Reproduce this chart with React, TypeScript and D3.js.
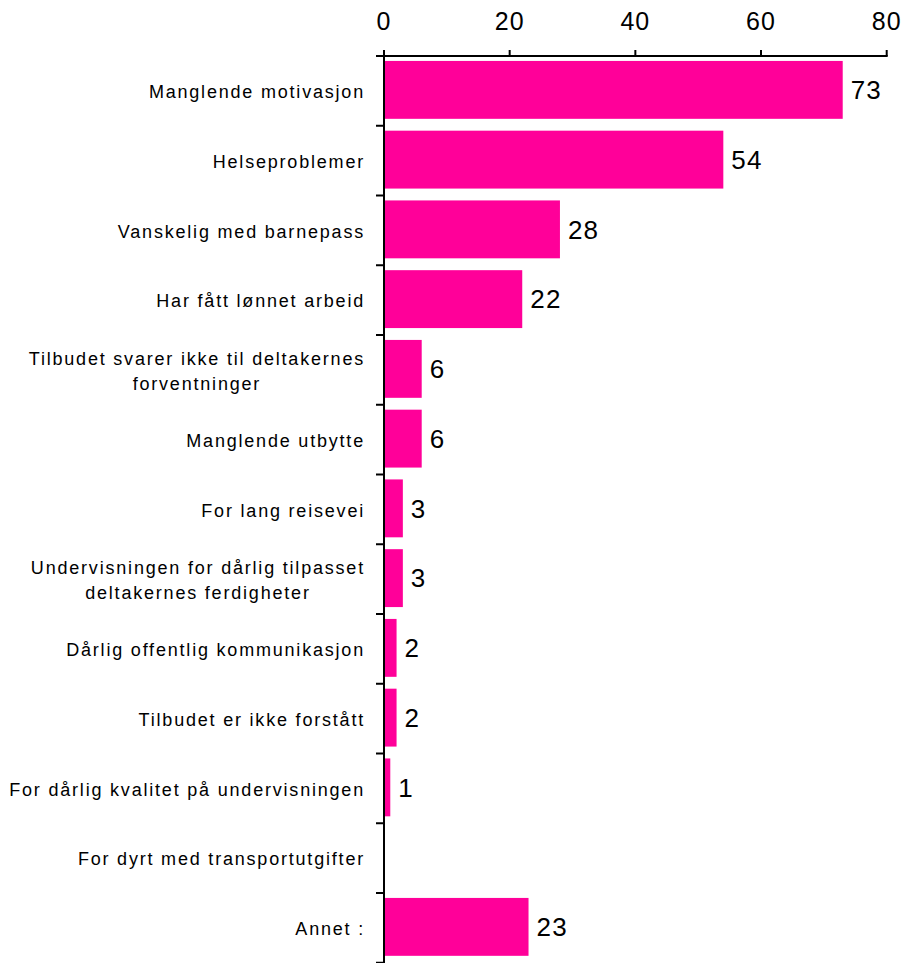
import React, { useEffect, useRef } from "react";
import * as d3 from "d3";

const categories: string[][] = [
  ["Manglende motivasjon"],
  ["Helseproblemer"],
  ["Vanskelig med barnepass"],
  ["Har fått lønnet arbeid"],
  ["Tilbudet svarer ikke til deltakernes", "forventninger"],
  ["Manglende utbytte"],
  ["For lang reisevei"],
  ["Undervisningen for dårlig tilpasset", "deltakernes ferdigheter"],
  ["Dårlig offentlig kommunikasjon"],
  ["Tilbudet er ikke forstått"],
  ["For dårlig kvalitet på undervisningen"],
  ["For dyrt med transportutgifter"],
  ["Annet :"],
];
const values: (number | null)[] = [73, 54, 28, 22, 6, 6, 3, 3, 2, 2, 1, null, 23];
const tickValues: number[] = [0, 20, 40, 60, 80];

const W = 906;
const H = 963;
const FONT = "'Liberation Sans', Arial, Helvetica, sans-serif";
const PINK = "#FF0099";

export default function App() {
  const ref = useRef<SVGSVGElement | null>(null);

  useEffect(() => {
    const svg = d3.select(ref.current);
    svg.selectAll("*").remove();

    const x0 = 384;
    const x1 = 886.7;
    const yTop = 56;
    const rowH = 69.75;
    const x = d3.scaleLinear().domain([0, 80]).range([x0, x1]);
    const idx = categories.map((_, i) => String(i));
    const y = d3
      .scaleBand<string>()
      .domain(idx)
      .range([yTop, yTop + rowH * categories.length])
      .paddingInner(0.17)
      .paddingOuter(0.085);
    const step = y.step();

    // bars
    svg
      .append("g")
      .selectAll("rect")
      .data(values.map((v, i) => ({ v, i })).filter((d) => d.v !== null && (d.v as number) > 0))
      .join("rect")
      .attr("x", x(0) + 1)
      .attr("y", (d) => (y(String(d.i)) as number) - 1)
      .attr("width", (d) => x(d.v as number) - x(0) - 1)
      .attr("height", y.bandwidth())
      .attr("fill", PINK);

    // value labels
    svg
      .append("g")
      .selectAll("text")
      .data(values.map((v, i) => ({ v, i })).filter((d) => d.v !== null))
      .join("text")
      .attr("x", (d) => x(d.v as number) + 8)
      .attr("y", (d) => (y(String(d.i)) as number) - 1 + y.bandwidth() / 2)
      .attr("dy", "0.36em")
      .attr("font-family", FONT)
      .attr("font-size", 26)
      .attr("letter-spacing", 1.2)
      .attr("fill", "#000")
      .text((d) => String(d.v));

    // top axis
    const ax = svg.append("g");
    ax.append("line")
      .attr("x1", x0 - 8)
      .attr("x2", x1 + 1)
      .attr("y1", yTop)
      .attr("y2", yTop)
      .attr("stroke", "#000")
      .attr("stroke-width", 2);
    ax.selectAll("line.t")
      .data(tickValues)
      .join("line")
      .attr("class", "t")
      .attr("x1", (d) => x(d))
      .attr("x2", (d) => x(d))
      .attr("y1", yTop - 6)
      .attr("y2", yTop)
      .attr("stroke", "#000")
      .attr("stroke-width", 2);
    ax.selectAll("text")
      .data(tickValues)
      .join("text")
      .attr("x", (d) => x(d))
      .attr("y", 30)
      .attr("text-anchor", "middle")
      .attr("font-family", FONT)
      .attr("font-size", 25)
      .attr("letter-spacing", 1)
      .attr("fill", "#000")
      .text((d) => String(d));

    // left axis
    const ay = svg.append("g");
    ay.append("line")
      .attr("x1", x0)
      .attr("x2", x0)
      .attr("y1", yTop - 6)
      .attr("y2", H + 10)
      .attr("stroke", "#000")
      .attr("stroke-width", 2);
    ay.selectAll("line.t")
      .data(d3.range(categories.length + 1))
      .join("line")
      .attr("class", "t")
      .attr("x1", x0 - 8)
      .attr("x2", x0)
      .attr("y1", (i) => yTop + i * step)
      .attr("y2", (i) => yTop + i * step)
      .attr("stroke", "#000")
      .attr("stroke-width", 2);

    // category labels
    const labelRight = 365;
    const lineH = 25;
    categories.forEach((lines, i) => {
      const cy = yTop + i * step + step / 2;
      const g = ay.append("g");
      const texts = lines.map((ln, k) =>
        g
          .append("text")
          .attr("font-family", FONT)
          .attr("font-size", 18)
          .attr("letter-spacing", 1.8)
          .attr("fill", "#000")
          .attr("text-anchor", "middle")
          .attr("y", cy + (k - (lines.length - 1) / 2) * lineH + 1)
          .attr("dy", "0.35em")
          .text(ln)
      );
      const widths = texts.map((t) => (t.node() as SVGTextElement).getComputedTextLength());
      const maxW = Math.max(...widths);
      const center = labelRight - maxW / 2;
      texts.forEach((t) => t.attr("x", center));
    });
  }, []);

  return (
    <div style={{ position: "absolute", left: 0, top: 0 }}>
      <svg ref={ref} width={W} height={H} style={{ display: "block", background: "#fff" }} />
    </div>
  );
}
